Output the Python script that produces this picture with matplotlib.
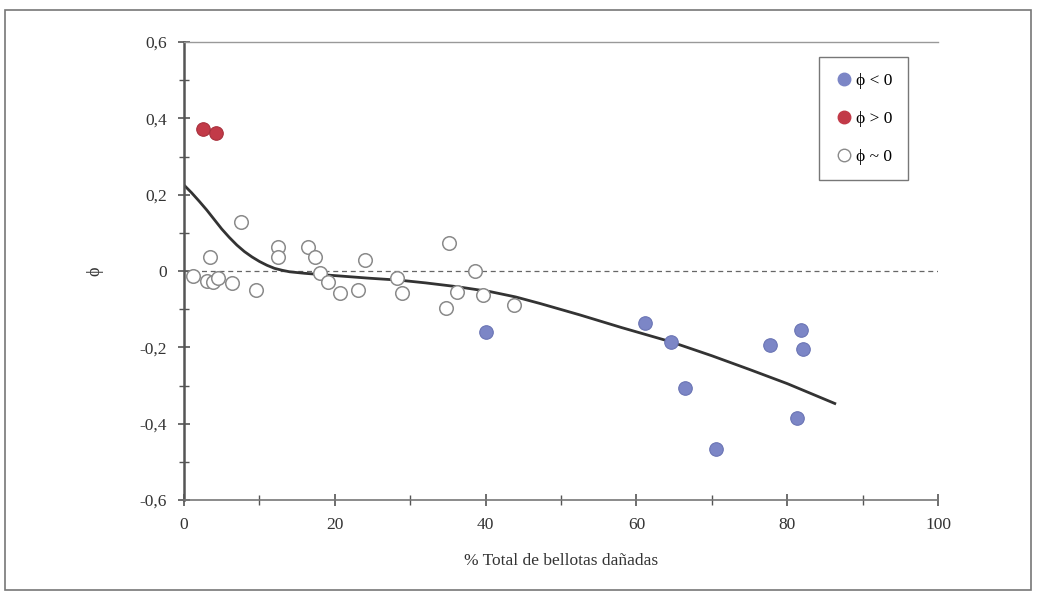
import matplotlib.pyplot as plt
from matplotlib.patches import Rectangle
from matplotlib.lines import Line2D
from matplotlib.ticker import MultipleLocator, FuncFormatter

# --------------------------------------------------
# Data
# --------------------------------------------------
neg_x = [40.1, 61.1, 64.6, 66.4, 70.6, 77.7, 81.8, 82.1, 81.3]
neg_y = [-0.159, -0.136, -0.186, -0.307, -0.467, -0.194, -0.155, -0.204, -0.385]

pos_x = [2.5, 4.2]
pos_y = [0.372, 0.362]

zero_x = [1.2, 3.0, 3.8, 4.5, 3.4, 6.3, 7.6, 9.6, 12.5, 12.5, 16.5, 17.4, 18.0,
          19.1, 20.7, 23.1, 24.0, 28.2, 28.9, 34.8, 35.1, 36.2, 38.6, 39.6, 43.7]
zero_y = [-0.012, -0.025, -0.028, -0.018, 0.038, -0.032, 0.129, -0.050, 0.064, 0.038,
          0.064, 0.038, -0.006, -0.028, -0.058, -0.050, 0.029, -0.017, -0.058, -0.098,
          0.073, -0.054, 0.001, -0.063, -0.089]

fit_x = [0, 1, 2, 3, 4, 5, 6, 7, 8, 9, 10, 11, 12, 13, 14, 16, 18, 20, 24.7, 28.6,
         32, 36.2, 40.6, 44, 47.2, 52.5, 58, 64.5, 70, 75, 80, 86.3]
fit_y = [0.225, 0.205, 0.183, 0.160, 0.135, 0.110, 0.088, 0.068, 0.051, 0.037, 0.025,
         0.015, 0.007, 0.002, -0.002, -0.006, -0.009, -0.012, -0.019, -0.024, -0.031,
         -0.041, -0.054, -0.068, -0.085, -0.115, -0.148, -0.185, -0.222, -0.258,
         -0.295, -0.347]

legend_labels = ["\u03d5 < 0", "\u03d5 > 0", "\u03d5 ~ 0"]

plt.rcParams["font.family"] = ["Liberation Serif", "DejaVu Serif"]

# --------------------------------------------------
# Plot
# --------------------------------------------------
fig = plt.figure(figsize=(10.4, 5.96), dpi=100)
ax = fig.add_axes([0.177, 0.161, 0.725, 0.7685])

ax.axhline(0, color="#666666", lw=0.9, ls=(0, (4, 3)), zorder=1)
ax.plot(fit_x, fit_y, color="#333333", lw=2.0, zorder=2)

ax.scatter(zero_x, zero_y, s=95, facecolor="white", edgecolor="#8a8a8a", lw=1.1, zorder=3)
ax.scatter(neg_x, neg_y, s=95, color="#7c86c6", edgecolor="#6a74b4", lw=0.8, zorder=4)
ax.scatter(pos_x, pos_y, s=95, color="#c23a48", edgecolor="#a8303c", lw=0.8, zorder=4)

ax.set_xlim(0, 100)
ax.set_ylim(-0.6, 0.6)
ax.xaxis.set_major_locator(MultipleLocator(20))
ax.xaxis.set_minor_locator(MultipleLocator(10))
ax.yaxis.set_major_locator(MultipleLocator(0.2))
ax.yaxis.set_minor_locator(MultipleLocator(0.1))
ax.yaxis.set_major_formatter(FuncFormatter(
    lambda v, p: "0" if abs(v) < 1e-9 else f"{v:.1f}".replace(".", ",")))

ax.tick_params(which="both", direction="inout", colors="#555555", labelcolor="#333333",
               labelsize=12.5)
ax.tick_params(which="major", length=9, width=1.2)
ax.tick_params(which="minor", length=7, width=1.0)
ax.tick_params(axis="x", pad=8)
ax.tick_params(axis="y", pad=8)

ax.spines["left"].set_color("#555555")
ax.spines["left"].set_linewidth(1.8)
ax.spines["bottom"].set_color("#777777")
ax.spines["bottom"].set_linewidth(1.2)
ax.spines["top"].set_color("#999999")
ax.spines["top"].set_linewidth(1.0)
ax.spines["right"].set_visible(False)

ax.set_xlabel("% Total de bellotas dañadas", fontsize=12.5, color="#333333", labelpad=14)
ax.set_ylabel("\u03d5", fontsize=13, color="#333333", labelpad=26)

handles = [
    Line2D([], [], marker="o", ls="", ms=9, color="#7c86c6"),
    Line2D([], [], marker="o", ls="", ms=9, color="#c23a48"),
    Line2D([], [], marker="o", ls="", ms=9, markerfacecolor="white", markeredgecolor="#8a8a8a"),
]
leg = ax.legend(handles, legend_labels, loc="upper right", bbox_to_anchor=(0.960, 0.967),
                borderaxespad=0, frameon=True, fancybox=False, fontsize=12.5,
                handletextpad=0.2, labelspacing=1.25, borderpad=0.9, handlelength=1.0)
leg.get_frame().set_edgecolor("#555555")
leg.get_frame().set_linewidth(1.0)

# outer border
fig.patches.append(Rectangle((0.005, 0.01), 0.986, 0.973, transform=fig.transFigure,
                             fill=False, edgecolor="#777777", lw=1.2))

fig.savefig("out.png", dpi=100)
